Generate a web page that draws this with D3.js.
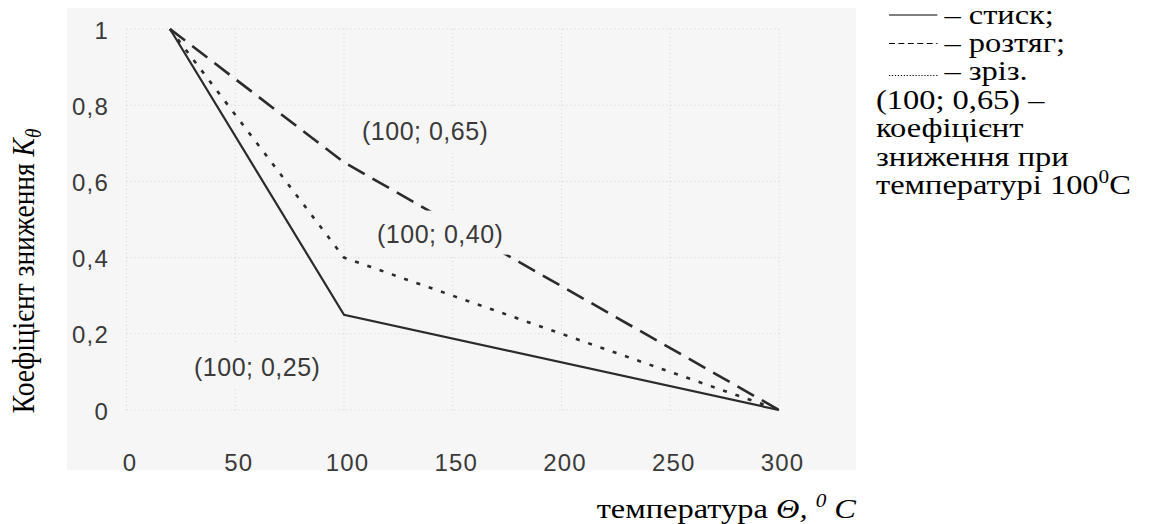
<!DOCTYPE html>
<html>
<head>
<meta charset="utf-8">
<script src="https://cdn.jsdelivr.net/npm/d3@7/dist/d3.min.js"></script>
<style>
  body { margin: 0; background: #fff; }
  svg { display: block; }
</style>
</head>
<body>
<svg id="chart" width="1154" height="524"></svg>
<script>
// Temperature points (°C) and reduction coefficients K for each loading type
const temperatures = [20, 100, 300];
const compression = [1, 0.25, 0];   // стиск
const tension = [1, 0.65, 0];       // розтяг
const shear = [1, 0.40, 0];         // зріз

const xTicks = [0, 50, 100, 150, 200, 250, 300];
const yTicks = [0, 0.2, 0.4, 0.6, 0.8, 1];
const yTickLabels = ["0", "0,2", "0,4", "0,6", "0,8", "1"];

const seriesNames = ["стиск;", "розтяг;", "зріз."];
const pointLabels = ["(100; 0,25)", "(100; 0,40)", "(100; 0,65)"];
const noteLines = ["(100; 0,65) –", "коефіцієнт", "зниження при"];

const svg = d3.select("#chart");
const sans = "'Liberation Sans', Arial, sans-serif";
const serif = "'Liberation Serif', 'Times New Roman', serif";
const stretch = 1.18; // serif captions are set slightly wide
const panelFill = "#f6f6f6";

const x = d3.scaleLinear().domain([0, 300]).range([126.5, 779]);
const y = d3.scaleLinear().domain([0, 1]).range([410, 29]);

// plot panel
svg.append("rect")
  .attr("x", 67).attr("y", 8).attr("width", 789).attr("height", 462)
  .attr("fill", panelFill);

// faint dotted grid
const grid = svg.append("g")
  .attr("stroke", "#c2c6ce").attr("stroke-width", 1)
  .attr("stroke-dasharray", "1,3").attr("opacity", 0.7);
grid.selectAll("line.v").data(xTicks).join("line").attr("class", "v")
  .attr("x1", d => x(d)).attr("x2", d => x(d))
  .attr("y1", y(1)).attr("y2", y(0));
grid.selectAll("line.h").data(yTicks).join("line").attr("class", "h")
  .attr("x1", x(0)).attr("x2", x(300))
  .attr("y1", d => y(d)).attr("y2", d => y(d));

// axes drawn as label-only axes
const xAxis = d3.axisBottom(x).tickValues(xTicks).tickSize(0).tickPadding(0)
  .tickFormat(d3.format("d"));
const gx = svg.append("g").attr("transform", `translate(3,${y(0) + 61})`).call(xAxis);
gx.select(".domain").remove();
gx.selectAll("text").attr("dy", 0).attr("y", 0);

const yAxis = d3.axisLeft(y).tickValues(yTicks).tickSize(0).tickPadding(0)
  .tickFormat((d, i) => yTickLabels[i]);
const gy = svg.append("g").attr("transform", `translate(109,0)`).call(yAxis);
gy.select(".domain").remove();
gy.selectAll("text").attr("dy", "0.38em");

svg.selectAll(".tick text")
  .attr("font-family", sans).attr("font-size", 24)
  .attr("letter-spacing", 1.2).attr("fill", "#3a3a3a");

// curves
const line = d3.line().x(d => x(d[0])).y(d => y(d[1]));
const series = [
  { values: compression, dash: null, width: 2.2 },
  { values: tension, dash: "19,9", width: 2.6 },
  { values: shear, dash: "4,9", width: 2.6 }
];
svg.append("g").selectAll("path").data(series).join("path")
  .attr("d", s => line(temperatures.map((t, i) => [t, s.values[i]])))
  .attr("fill", "none").attr("stroke", "#2b2b2b")
  .attr("stroke-width", s => s.width)
  .attr("stroke-dasharray", s => s.dash);

// value labels at 100 °C, each on an opaque box in the panel colour
const labelOffsets = [[-150, 61], [33, -15], [18, -22]];
const knee = [compression[1], shear[1], tension[1]];
const labels = svg.append("g").selectAll("g").data(pointLabels).join("g");
labels.append("rect").attr("fill", panelFill);
labels.append("text")
  .attr("x", (d, i) => x(temperatures[1]) + labelOffsets[i][0])
  .attr("y", (d, i) => y(knee[i]) + labelOffsets[i][1])
  .attr("font-family", sans).attr("font-size", 25)
  .attr("letter-spacing", 0.5).attr("fill", "#3a3a3a")
  .text(d => d);
labels.each(function () {
  const g = d3.select(this);
  const b = g.select("text").node().getBBox();
  g.select("rect")
    .attr("x", b.x - 6).attr("y", b.y - 9)
    .attr("width", b.width + 12).attr("height", b.height + 16);
});

// y axis title
const yt = svg.append("text")
  .attr("transform", `translate(34,271) rotate(-90) scale(1,${stretch})`)
  .attr("text-anchor", "middle")
  .attr("font-family", serif).attr("font-size", 27.5).attr("fill", "#000");
yt.append("tspan").text("Коефіцієнт зниження ");
yt.append("tspan").attr("font-style", "italic").text("K");
yt.append("tspan").attr("font-style", "italic").attr("font-size", 19)
  .attr("dy", 6).text("θ");

// x axis title
const xt = svg.append("text")
  .attr("transform", `translate(856,518) scale(${stretch},1)`)
  .attr("text-anchor", "end")
  .attr("font-family", serif).attr("font-size", 27.5).attr("fill", "#000");
xt.append("tspan").text("температура ");
xt.append("tspan").attr("font-style", "italic").text("Θ, ");
xt.append("tspan").attr("font-style", "italic").attr("font-size", 18)
  .attr("dy", -11).text("0");
xt.append("tspan").attr("font-style", "italic").attr("dy", 11).text(" C");

// legend and note on the right
const lineH = 28.5, firstBase = 23.5;
const dashes = [null, "5,3", "1,1.5"];
const legend = svg.append("g")
  .attr("transform", `translate(876,0) scale(${stretch},1)`)
  .attr("font-family", serif).attr("font-size", 27.5).attr("fill", "#000");
seriesNames.forEach((name, i) => {
  const base = firstBase + i * lineH;
  const markY = base - (i === 2 ? 5 : 8.5);
  legend.append("line")
    .attr("x1", 11).attr("x2", 52)
    .attr("y1", markY).attr("y2", markY)
    .attr("stroke", "#000").attr("stroke-width", i === 2 ? 0.9 : 1.2)
    .attr("stroke-dasharray", dashes[i]);
  legend.append("text").attr("x", 58).attr("y", base).text("– " + name);
});
noteLines.forEach((t, i) => {
  legend.append("text").attr("x", 0)
    .attr("y", firstBase + (3 + i) * lineH).text(t);
});
const last = legend.append("text").attr("x", 0).attr("y", firstBase + 6 * lineH);
last.append("tspan").text("температурі 100");
last.append("tspan").attr("font-size", 18).attr("dy", -11).text("0");
last.append("tspan").attr("dy", 11).text("С");
</script>
</body>
</html>
